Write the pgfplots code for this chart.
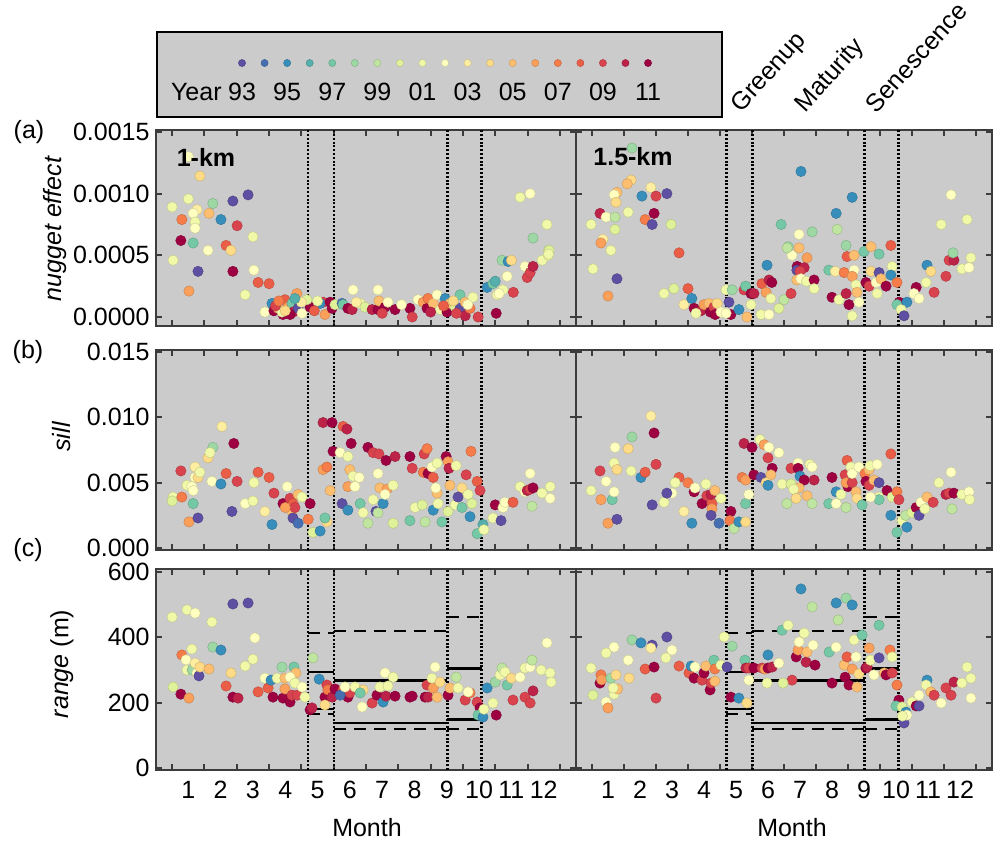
\documentclass[border=0pt]{standalone}
\usepackage{fontspec}
\setmainfont{Liberation Sans}
\usepackage{pgfplots}
\usepackage{pgfplotstable}
\pgfplotsset{compat=1.18}
\definecolor{bgGray}{RGB}{203,203,203}
\definecolor{frameGray}{RGB}{60,60,60}
\newcommand\fsz{\fontsize{25}{29}\selectfont}

% nugget effect, 1-km
\pgfplotstableread{
x y c
0.50 0.000892 2001
1.00 0.000957 2001
1.36 0.001143 2004
1.00 0.00130 2002
0.80 0.00079 2007
1.27 0.00087 2003
1.15 0.00084 2002
1.21 0.00077 2001
1.21 0.00072 2002
1.76 0.00092 1998
1.64 0.00084 2005
2.38 0.00094 1993
2.85 0.00099 1993
2.01 0.00079 1995
2.51 0.00074 2009
0.77 0.00062 2011
1.15 0.00060 1997
0.53 0.00046 2001
1.61 0.00054 2002
2.17 0.00058 2008
2.32 0.00054 2004
3.00 0.00065 2001
1.30 0.00037 1993
2.38 0.00037 2011
3.03 0.00038 2002
1.02 0.00021 2006
3.16 0.00028 2008
3.50 0.00027 2008
2.76 0.00018 2001
3.37 0.00004 2002
3.59 0.00011 1995
3.65 0.00005 2011
3.93 0.00002 2011
3.99 0.00014 2008
4.09 0.00008 2006
4.21 0.00011 1997
4.24 0.00004 2010
4.36 0.00019 2006
4.40 0.00007 1993
4.15 0.00002 2011
3.78 0.00007 2005
3.90 0.00004 2001
4.52 0.00003 2002
4.77 0.00008 2011
4.67 0.00014 2000
5.23 0.00002 2006
5.17 0.00012 2009
5.08 0.00011 1995
5.39 0.00012 2011
5.45 0.00007 2011
5.54 0.00010 2000
5.76 0.00011 1994
5.79 0.00010 1997
5.94 0.00007 2011
6.07 0.00006 2010
6.10 0.00022 2002
6.32 0.00011 2001
6.47 0.00008 2000
6.69 0.00006 2010
6.87 0.00022 2002
6.87 0.00006 2011
6.90 0.00013 2005
7.09 0.00008 2011
7.18 0.00012 2002
7.40 0.00006 2011
7.86 0.00007 2011
7.93 0.00000 2009
8.11 0.00014 2002
8.27 0.00012 2006
8.39 0.00007 2011
8.42 0.00015 2007
8.58 0.00011 2005
8.70 0.00018 2002
8.80 0.00006 2001
8.95 0.00015 1995
9.01 0.00004 2011
9.10 0.00011 2005
9.26 0.00008 2000
9.41 0.00018 1997
9.41 0.00007 1993
9.57 0.00012 2005
9.57 0.00001 2010
9.72 0.00007 2007
9.81 0.00016 2001
9.97 0.00000 2009
10.25 0.00024 1995
10.43 0.00027 1997
10.50 0.00029 1996
10.56 0.00018 2001
10.53 0.00003 2011
10.74 0.00022 2001
10.87 0.00033 2002
11.06 0.00020 2009
10.71 0.00046 1998
10.90 0.00045 1995
11.00 0.00046 2004
11.42 0.00041 2002
11.49 0.00032 2009
11.58 0.00036 2009
11.67 0.00041 2010
11.95 0.00046 2001
12.14 0.00050 2001
12.15 0.00054 2000
11.27 0.00097 2001
11.58 0.00100 2002
12.10 0.00075 2001
11.67 0.00064 1998
12.17 0.00054 2000
12.15 0.00051 2001
10.62 0.00019 2002
3.70 0.00009 2009
4.00 0.00005 2004
4.50 0.00012 2003
4.30 0.00015 1996
3.80 0.00013 2007
4.90 0.00005 2008
5.00 0.00013 2001
8.90 0.00009 2008
9.20 0.00013 2004
9.65 0.00010 2002
9.30 0.00003 2009
8.50 0.00004 2010
6.20 0.00012 2003
7.60 0.00010 2002
7.00 0.00003 2009
}\nugA

% nugget effect, 1.5-km
\pgfplotstableread{
x y c
1.75 0.00137 1998
1.72 0.00111 2004
1.60 0.00108 2005
1.28 0.00101 2005
1.19 0.00099 2002
1.25 0.00093 2004
2.34 0.00105 2003
2.06 0.00098 1995
2.50 0.00098 2009
2.84 0.00100 1993
0.75 0.00084 2010
0.94 0.00081 2002
1.22 0.00081 1999
1.63 0.00085 2001
2.44 0.00084 2011
2.16 0.00079 2007
2.38 0.00075 1993
0.47 0.00075 2001
1.22 0.00071 2000
2.97 0.00075 2000
0.84 0.00063 2003
0.78 0.00060 2006
1.09 0.00054 2001
3.22 0.00052 2008
0.53 0.00039 2001
1.28 0.00031 1993
1.00 0.00017 2006
2.75 0.00019 2001
3.06 0.00023 2000
3.50 0.00023 2008
3.37 0.00010 2003
3.62 0.00015 1995
3.69 0.00007 2011
3.90 0.00005 2010
4.00 0.00010 2006
4.16 0.00011 2005
4.20 0.00004 2011
4.31 0.00008 2009
4.41 0.00011 2004
4.35 0.00002 2011
3.75 0.00003 2001
4.53 0.00004 2002
4.69 0.00022 2001
4.78 0.00012 1993
4.84 0.00002 2011
4.69 0.00003 2002
4.88 0.00022 1998
5.09 0.00006 1995
5.34 0.00000 2005
5.25 0.00022 2009
5.30 0.00025 1997
5.47 0.00019 2011
5.47 0.00010 2001
5.56 0.00019 2010
5.78 0.00002 2001
6.03 0.00002 2002
5.81 0.00027 2008
5.94 0.00020 2006
5.97 0.00042 1995
6.03 0.00030 2010
6.12 0.00028 2011
6.09 0.00015 2001
6.34 0.00007 2000
6.50 0.00014 1999
6.72 0.00019 2009
6.63 0.00057 1998
6.75 0.00050 2002
6.97 0.00056 2005
7.22 0.00048 2006
6.91 0.00041 2011
6.90 0.00038 1993
7.13 0.00040 2010
7.00 0.00037 2009
6.90 0.00030 2005
7.03 0.00031 2002
7.20 0.00029 2001
7.44 0.00030 2011
7.44 0.00023 2001
7.90 0.00038 1997
8.10 0.00037 2003
8.38 0.00036 2007
8.47 0.00049 2008
8.69 0.00050 2005
8.44 0.00058 1998
8.69 0.00038 2002
8.63 0.00033 2006
8.75 0.00026 2001
8.78 0.00020 2005
8.00 0.00016 2011
8.22 0.00014 2001
8.44 0.00019 2010
8.53 0.00010 2011
8.63 0.00001 2001
8.84 0.00012 2002
9.00 0.00053 1997
9.22 0.00057 2005
9.47 0.00051 1997
9.84 0.00058 2008
9.88 0.00041 2001
9.22 0.00037 2004
9.47 0.00036 1993
9.84 0.00034 1995
9.06 0.00028 2011
9.16 0.00025 2009
9.38 0.00028 2002
9.53 0.00031 2005
9.69 0.00025 2011
9.41 0.00019 2001
10.03 0.00028 2007
10.10 0.00012 2011
10.03 0.00010 1997
10.34 0.00012 1995
10.16 0.00006 2001
10.25 0.00001 1993
10.63 0.00024 2011
10.56 0.00019 2002
10.72 0.00015 2002
10.94 0.00028 2001
11.19 0.00020 2009
10.97 0.00042 1995
11.09 0.00037 2004
11.56 0.00033 2009
11.66 0.00046 2009
11.81 0.00046 2010
11.78 0.00052 1998
12.06 0.00039 2001
12.28 0.00040 2002
12.34 0.00048 2001
7.03 0.00118 1995
8.63 0.00097 1995
8.13 0.00084 1995
6.41 0.00075 1997
7.38 0.00069 1998
8.16 0.00071 1999
6.97 0.00067 2002
6.60 0.00056 1999
11.72 0.00099 2002
12.22 0.00079 2001
11.41 0.00075 2001
}\nugB

% sill, 1-km
\pgfplotstableread{
x y c
0.53 0.0039 2001
0.50 0.0036 2000
0.80 0.0039 2007
0.77 0.0059 2009
1.02 0.0020 2006
1.30 0.0023 1993
1.15 0.0034 1997
0.96 0.0048 2001
1.11 0.0047 2002
1.21 0.0054 2002
1.21 0.0062 2003
1.30 0.0054 2004
1.36 0.0058 2001
1.15 0.0044 2002
1.61 0.0069 2004
1.76 0.0077 1998
1.67 0.0073 2001
2.04 0.0093 2003
2.41 0.0080 2011
1.73 0.0051 2002
2.01 0.0049 1995
2.51 0.0051 2009
2.17 0.0057 2008
2.35 0.0028 1993
2.76 0.0034 2002
3.00 0.0036 2001
3.16 0.0058 2008
3.03 0.0050 2001
3.50 0.0054 2008
3.37 0.0028 2003
3.59 0.0018 1995
3.65 0.0042 2009
4.06 0.0047 2002
3.93 0.0034 2011
4.15 0.0038 2009
4.24 0.0034 2008
4.21 0.0028 2005
4.24 0.0023 1993
4.40 0.0019 1994
4.30 0.0031 2009
4.40 0.0041 2005
4.00 0.0031 2006
4.52 0.0039 2001
4.77 0.0034 2011
4.71 0.0022 2007
4.86 0.0012 2000
5.08 0.0013 1995
5.17 0.0096 2010
5.45 0.0096 2011
5.17 0.0060 2006
5.29 0.0062 2007
5.48 0.0074 2011
5.39 0.0044 2005
5.29 0.0020 2004
5.23 0.0023 1997
5.70 0.0073 2002
5.94 0.0070 2001
5.79 0.0093 2008
5.91 0.0091 2010
6.04 0.0080 2011
6.00 0.0060 2005
5.94 0.0047 2006
6.16 0.0047 2002
6.10 0.0055 2001
6.29 0.0054 2002
5.76 0.0034 1993
5.94 0.0029 1995
6.32 0.0034 1997
6.41 0.0027 2001
6.56 0.0019 1999
6.56 0.0077 2011
6.72 0.0073 2009
6.90 0.0072 2009
7.12 0.0067 2011
7.40 0.0070 2010
6.87 0.0057 2002
6.93 0.0046 2005
7.15 0.0045 2006
6.72 0.0037 2001
7.03 0.0034 1995
6.81 0.0028 1993
7.09 0.0041 2002
7.34 0.0019 2000
6.87 0.0027 1999
7.86 0.0070 2011
7.93 0.0061 2009
8.30 0.0072 2009
8.39 0.0076 2007
8.27 0.0058 2007
8.42 0.0057 2011
8.58 0.0054 2008
8.54 0.0062 2002
8.70 0.0065 2001
8.98 0.0070 2011
9.04 0.0066 2006
9.07 0.0061 2010
9.29 0.0063 2001
9.75 0.0074 2007
9.60 0.0056 2009
9.94 0.0051 2008
10.03 0.0044 2009
7.34 0.0048 2001
8.70 0.0042 2005
9.10 0.0048 2005
9.47 0.0046 2004
8.66 0.0046 2002
7.86 0.0021 1997
8.02 0.0031 2001
8.24 0.0033 2000
8.33 0.0020 1999
8.58 0.0029 1995
8.73 0.0034 2001
8.85 0.0020 1997
9.04 0.0028 2000
9.26 0.0033 2001
9.35 0.0039 1993
9.47 0.0031 1997
9.66 0.0041 2001
9.78 0.0034 2000
9.72 0.0024 1995
9.94 0.0011 1997
10.12 0.0018 1996
10.15 0.0014 2001
10.50 0.0033 2011
10.43 0.0023 2001
10.68 0.0021 1993
10.74 0.0031 2002
10.80 0.0035 2002
11.05 0.0035 2008
11.27 0.0047 2001
11.42 0.0043 2002
11.49 0.0044 2010
11.58 0.0045 2009
11.67 0.0046 2011
11.58 0.0057 2002
11.64 0.0032 1999
11.95 0.0042 2001
12.20 0.0047 2001
12.20 0.0038 2002
}\sillA

% sill, 1.5-km
\pgfplotstableread{
x y c
0.47 0.0044 2001
0.78 0.0037 2006
0.75 0.0059 2009
1.00 0.0019 2006
1.28 0.0022 1993
1.13 0.0037 1997
0.94 0.0051 2002
1.19 0.0065 2001
1.22 0.0077 2002
1.28 0.0060 2004
1.19 0.0043 2002
1.63 0.0076 2004
1.75 0.0085 1998
1.72 0.0059 2001
2.34 0.0101 2003
2.44 0.0088 2011
2.03 0.0054 1995
2.16 0.0058 2008
2.50 0.0064 2009
2.38 0.0033 1993
2.75 0.0035 2001
3.00 0.0042 2002
2.84 0.0042 1993
3.22 0.0054 2008
3.10 0.0050 2001
3.37 0.0028 2003
3.62 0.0019 1995
3.50 0.0050 2007
3.69 0.0043 2011
3.72 0.0046 2002
4.06 0.0049 2001
3.94 0.0034 2011
4.09 0.0040 2009
4.25 0.0034 2008
4.22 0.0041 2010
4.25 0.0030 2006
4.22 0.0025 1993
4.47 0.0019 1994
4.34 0.0044 2005
4.53 0.0038 2001
4.84 0.0028 2011
4.81 0.0021 2007
4.94 0.0015 1999
5.09 0.0020 1995
5.30 0.0020 2004
5.30 0.0034 1997
5.25 0.0080 2010
5.50 0.0077 2011
5.19 0.0054 2007
5.30 0.0052 2006
5.40 0.0041 2002
5.56 0.0056 2011
5.78 0.0054 1993
5.75 0.0083 2001
5.88 0.0079 2006
6.03 0.0077 2002
6.00 0.0069 2009
6.13 0.0061 2011
6.09 0.0056 2005
5.94 0.0050 2004
6.00 0.0048 1995
6.34 0.0073 2002
6.44 0.0049 2001
6.72 0.0061 2009
6.94 0.0065 2002
6.94 0.0061 2011
7.00 0.0055 1995
7.13 0.0052 2011
7.44 0.0052 2010
7.31 0.0064 2001
7.38 0.0062 2002
6.72 0.0049 2000
6.97 0.0046 2005
6.80 0.0045 2001
6.59 0.0034 1999
6.88 0.0038 2004
7.22 0.0040 2005
7.38 0.0034 1999
8.00 0.0054 2011
8.13 0.0043 1995
8.28 0.0041 2001
7.90 0.0034 1997
8.13 0.0034 2002
8.41 0.0056 2009
8.47 0.0067 2008
8.50 0.0047 2011
8.44 0.0050 2006
8.63 0.0050 2009
8.59 0.0062 2001
8.63 0.0057 2002
8.75 0.0043 2005
8.78 0.0038 2004
8.44 0.0031 1999
8.84 0.0062 2002
8.94 0.0033 1997
9.03 0.0057 2007
9.06 0.0051 2011
9.16 0.0048 2009
9.16 0.0060 2005
9.19 0.0063 2001
9.41 0.0064 2002
9.31 0.0052 2005
9.47 0.0050 1993
9.47 0.0039 2001
9.47 0.0037 1997
9.20 0.0039 2002
9.72 0.0044 2011
9.84 0.0072 2008
9.88 0.0039 2000
9.84 0.0025 1995
10.03 0.0043 2007
10.09 0.0037 2009
10.03 0.0012 1997
10.19 0.0021 2001
10.34 0.0016 1995
10.30 0.0025 1999
10.50 0.0027 2000
10.63 0.0031 2011
10.72 0.0025 1993
10.78 0.0035 2002
10.90 0.0030 2001
10.97 0.0039 2005
11.16 0.0035 2009
11.34 0.0050 2001
11.56 0.0041 2010
11.66 0.0042 2009
11.81 0.0042 2011
11.72 0.0058 2002
11.75 0.0030 1999
12.06 0.0041 2001
12.28 0.0043 2002
12.30 0.0037 2001
}\sillB

% range, 1-km
\pgfplotstableread{
x y c
0.50 462 2001
0.53 248 2000
0.77 226 2011
0.80 346 2007
0.96 484 2001
1.21 474 2002
1.11 364 2001
0.93 331 2002
0.96 300 2001
1.12 300 1998
1.02 214 2006
1.21 321 2003
1.27 291 2002
1.33 282 1993
1.36 309 2004
1.64 303 2005
1.73 447 2001
1.76 370 1998
2.01 361 1995
2.17 251 2008
2.32 291 2004
2.38 502 1993
2.85 505 1993
2.38 217 2011
2.54 214 2010
2.76 312 2001
3.00 333 2001
3.06 398 2002
3.16 233 2008
3.37 275 2002
3.47 245 2008
3.62 217 2011
3.56 269 1995
3.75 275 2001
3.90 309 1998
3.93 214 2011
3.99 242 2006
3.99 275 2005
4.15 202 2011
4.21 223 2009
4.27 309 1997
4.33 291 2005
4.15 278 2002
4.30 260 2001
4.37 223 2009
4.52 248 2002
4.61 217 2001
4.77 178 2011
4.83 184 2010
4.86 337 1999
5.05 272 1995
5.23 217 2011
5.29 254 2009
5.23 193 2004
5.32 239 2007
5.45 217 2010
5.54 242 2011
5.79 239 2008
5.94 217 2011
6.00 230 2009
5.70 223 1994
5.85 248 2002
6.16 248 2001
6.38 187 2002
6.41 239 2004
6.32 230 1997
6.69 199 2009
6.84 223 2011
7.03 202 1995
7.09 291 2002
7.12 220 2010
7.40 220 2011
7.34 278 2001
6.93 248 2001
7.86 217 2011
7.18 251 2001
7.93 220 2011
8.39 254 2009
8.33 217 2011
8.42 217 2010
8.58 245 2006
8.70 217 2005
8.64 309 2002
8.54 275 2001
8.79 263 2004
9.04 223 2011
9.10 245 2005
9.29 278 1999
9.35 245 2001
9.57 208 2009
9.72 230 2007
9.66 233 2002
9.94 202 2009
10.03 184 2011
9.97 162 1997
10.12 156 1995
10.15 180 2001
10.25 245 1995
10.43 199 2001
10.53 162 2011
10.50 263 1998
10.65 285 2001
10.71 306 1999
10.80 294 2001
10.87 254 1997
11.00 275 2004
11.05 208 2009
11.27 278 2002
11.42 306 2001
11.58 309 2002
11.64 330 1999
11.42 217 2009
11.58 199 2009
11.67 236 2010
11.92 300 2001
12.10 383 2002
12.20 291 2001
12.23 263 2001
}\rngA

% range, 1.5-km
\pgfplotstableread{
x y c
0.47 306 2001
0.53 223 2000
0.75 260 2011
0.78 285 2007
0.80 270 2006
0.94 352 2001
0.94 202 2002
1.00 184 2006
1.09 275 1998
1.19 370 2002
1.19 226 2001
1.25 285 2004
1.30 242 2005
1.16 245 2001
1.63 330 2002
1.66 275 2004
1.75 392 1998
2.03 383 1995
2.16 303 2008
2.38 376 1993
2.44 309 2011
2.34 367 2003
2.50 214 2009
2.81 337 2001
2.84 401 1993
3.00 361 2002
3.22 312 2008
3.53 291 2008
3.60 312 1995
3.69 275 2011
3.72 309 2002
3.94 269 2009
4.00 291 2011
4.06 312 2005
4.19 239 2011
4.22 260 2009
4.31 330 1997
4.34 303 2007
4.34 266 2005
4.53 315 2001
4.63 401 2001
4.72 309 1993
4.84 217 2011
4.88 373 1998
5.09 214 1995
5.34 199 2004
5.28 330 1997
5.31 306 2010
5.40 306 2009
5.56 306 2011
5.40 269 2002
5.81 306 2009
5.90 303 2006
6.00 346 1995
6.00 306 2011
6.13 309 2010
5.97 260 2001
6.34 321 2002
6.44 422 1997
6.63 437 2001
6.75 269 2009
6.47 260 2000
6.88 340 2011
6.94 361 2006
6.97 386 2002
7.03 548 1995
7.19 324 2010
7.22 355 2005
7.13 413 2001
7.41 376 2002
7.47 315 2011
7.38 493 1999
7.91 355 1997
8.00 260 2011
8.13 505 1995
8.13 370 2002
8.19 453 1999
8.44 520 1998
8.63 499 1995
8.38 315 2005
8.41 278 2011
8.47 340 2008
8.53 254 2011
8.63 303 2006
8.69 392 2001
8.75 340 2002
8.78 248 2005
8.84 288 2004
8.94 407 1997
9.06 306 2011
9.10 309 2010
9.16 367 2006
9.20 330 2001
9.31 285 2002
9.47 437 1997
9.47 337 1993
9.63 291 2005
9.69 285 2011
9.81 361 2007
9.88 340 2001
9.88 291 2009
10.03 254 2007
10.09 208 2011
10.00 190 1997
10.19 187 2000
10.25 138 1993
10.31 171 1995
10.34 162 2002
10.20 159 2001
10.50 202 2001
10.63 190 2011
10.72 190 1993
10.72 223 2002
10.97 269 1995
10.94 254 2001
11.09 233 2005
11.19 223 2009
11.41 199 2002
11.56 245 2009
11.72 223 2009
11.81 263 2010
12.06 260 2001
12.22 309 2001
12.34 275 2001
12.34 214 2002
}\rngB

% year key
\pgfplotstableread{
x y c
1993 0.635 1993
1994 0.635 1994
1995 0.635 1995
1996 0.635 1996
1997 0.635 1997
1998 0.635 1998
1999 0.635 1999
2000 0.635 2000
2001 0.635 2001
2002 0.635 2002
2003 0.635 2003
2004 0.635 2004
2005 0.635 2005
2006 0.635 2006
2007 0.635 2007
2008 0.635 2008
2009 0.635 2009
2010 0.635 2010
2011 0.635 2011
}\yearkey

\pgfplotsset{
  colormap={spectral}{rgb255=(94,79,162) rgb255=(50,136,189) rgb255=(102,194,165)
    rgb255=(171,221,164) rgb255=(230,245,152) rgb255=(255,255,191) rgb255=(254,224,139)
    rgb255=(253,174,97) rgb255=(244,109,67) rgb255=(213,62,79) rgb255=(158,1,66)},
  dots/.style={scatter, only marks, mark=*, mark size=5.2pt, point meta=explicit},
  panel/.style={
    scale only axis, anchor=north west,
    xmin=0, xmax=13,
    xtick={1,...,12},
    minor xtick={0.5,1.5,...,12.5},
    major x tick style={draw=none},
    major tick length=6pt, minor tick length=6pt,
    tick align=inside,
    tick style={frameGray, line width=2pt},
    axis line style={frameGray, line width=2.5pt},
    axis background/.style={fill=bgGray},
    point meta min=1993, point meta max=2011,
    scaled y ticks=false,
    tick label style={font=\fsz, /pgf/number format/assume math mode=true},
    xticklabel style={yshift=-8pt},
    yticklabel style={xshift=-3pt},
    clip=true,
  },
  dotline/.style={black, line width=2.4pt, dash pattern=on 2pt off 1.8pt},
  hsolid/.style={black, line width=2.5pt},
  hdash/.style={black, line width=2.5pt, dash pattern=on 12pt off 8pt},
}

\newcommand\phaselines[2]{%
  \addplot[dotline] coordinates {(4.70,#1)(4.70,#2)};
  \addplot[dotline] coordinates {(5.51,#1)(5.51,#2)};
  \addplot[dotline] coordinates {(9.02,#1)(9.02,#2)};
  \addplot[dotline] coordinates {(10.08,#1)(10.08,#2)};
}
\newcommand\rangelines{%
  \addplot[hsolid] coordinates {(4.70,294)(5.51,294)};
  \addplot[hsolid] coordinates {(4.70,181)(5.51,181)};
  \addplot[hdash] coordinates {(4.70,413)(5.51,413)};
  \addplot[hdash] coordinates {(4.70,165)(5.51,165)};
  \addplot[hsolid] coordinates {(5.51,268)(9.02,268)};
  \addplot[hsolid] coordinates {(5.51,138)(9.02,138)};
  \addplot[hdash] coordinates {(5.51,419)(9.02,419)};
  \addplot[hdash] coordinates {(5.51,119)(9.02,119)};
  \addplot[hsolid] coordinates {(9.02,304)(10.08,304)};
  \addplot[hsolid] coordinates {(9.02,149)(10.08,149)};
  \addplot[hdash] coordinates {(9.02,462)(10.08,462)};
  \addplot[hdash] coordinates {(9.02,119)(10.08,119)};
}

\begin{document}
\begin{tikzpicture}[font=\fsz]
\path[use as bounding box] (0pt,0pt) rectangle (995pt,-842pt);

% year key
\begin{axis}[at={(157pt,-32pt)}, anchor=north west, scale only axis,
  width=565pt, height=85pt, xmin=1989.23, xmax=2014.28, ymin=0, ymax=1,
  xtick=\empty, ytick=\empty, axis line style={black, line width=2pt},
  axis background/.style={fill=bgGray},
  point meta min=1993, point meta max=2011]
\addplot[scatter, only marks, mark=*, mark size=3.6pt, point meta=explicit]
  table[x=x, y=y, meta=c]{\yearkey};
\node[anchor=east] at (axis cs:1992.25,0.29) {Year};
\node at (axis cs:1993,0.29) {93};
\node at (axis cs:1995,0.29) {95};
\node at (axis cs:1997,0.29) {97};
\node at (axis cs:1999,0.29) {99};
\node at (axis cs:2001,0.29) {01};
\node at (axis cs:2003,0.29) {03};
\node at (axis cs:2005,0.29) {05};
\node at (axis cs:2007,0.29) {07};
\node at (axis cs:2009,0.29) {09};
\node at (axis cs:2011,0.29) {11};
\end{axis}

% (a) nugget effect
\begin{axis}[panel, at={(156pt,-130pt)}, width=420pt, height=196pt,
  ymin=-0.000073, ymax=0.001516, ytick={0,0.0005,0.001,0.0015},
  yticklabel style={/pgf/number format/fixed, /pgf/number format/fixed zerofill,
    /pgf/number format/precision=4},
  xticklabels={}]
\addplot[dots] table[x=x, y=y, meta=c]{\nugA};
\phaselines{-0.000073}{0.001516}
\end{axis}
\begin{axis}[panel, at={(576pt,-130pt)}, width=416pt, height=196pt,
  ymin=-0.000073, ymax=0.001516, ytick={0,0.0005,0.001,0.0015},
  yticklabels={}, xticklabels={}]
\addplot[dots] table[x=x, y=y, meta=c]{\nugB};
\phaselines{-0.000073}{0.001516}
\end{axis}

% (b) sill
\begin{axis}[panel, at={(156pt,-350pt)}, width=420pt, height=200pt,
  ymin=-0.00015, ymax=0.01515, ytick={0,0.005,0.01,0.015},
  yticklabel style={/pgf/number format/fixed, /pgf/number format/fixed zerofill,
    /pgf/number format/precision=3},
  xticklabels={}]
\addplot[dots] table[x=x, y=y, meta=c]{\sillA};
\phaselines{-0.00015}{0.01515}
\end{axis}
\begin{axis}[panel, at={(576pt,-350pt)}, width=416pt, height=200pt,
  ymin=-0.00015, ymax=0.01515, ytick={0,0.005,0.01,0.015},
  yticklabels={}, xticklabels={}]
\addplot[dots] table[x=x, y=y, meta=c]{\sillB};
\phaselines{-0.00015}{0.01515}
\end{axis}

% (c) range
\begin{axis}[panel, at={(156pt,-569pt)}, width=420pt, height=201pt,
  ymin=-6, ymax=609, ytick={0,200,400,600}]
\addplot[dots] table[x=x, y=y, meta=c]{\rngA};
\phaselines{-6}{609}
\rangelines
\end{axis}
\begin{axis}[panel, at={(576pt,-569pt)}, width=416pt, height=201pt,
  ymin=-6, ymax=609, ytick={0,200,400,600}, yticklabels={}]
\addplot[dots] table[x=x, y=y, meta=c]{\rngB};
\phaselines{-6}{609}
\rangelines
\end{axis}

% labels
\node at (29pt,-132pt) {(a)};
\node at (28pt,-352pt) {(b)};
\node at (28pt,-550pt) {(c)};
\node[rotate=90] at (55pt,-229pt) {\itshape nugget effect};
\node[rotate=90] at (62pt,-437pt) {\itshape sill};
\node[rotate=90] at (62pt,-664pt) {\textit{range} (m)};
\node at (367pt,-828pt) {Month};
\node at (792pt,-828pt) {Month};
\node[font=\fsz\bfseries] at (206pt,-157pt) {1-km};
\node[font=\fsz\bfseries] at (633pt,-157pt) {1.5-km};
\node[rotate=48, anchor=base west] at (739pt,-116pt) {Greenup};
\node[rotate=48, anchor=base west] at (803pt,-116pt) {Maturity};
\node[rotate=48, anchor=base west] at (874pt,-117pt) {Senescence};
\end{tikzpicture}
\end{document}
